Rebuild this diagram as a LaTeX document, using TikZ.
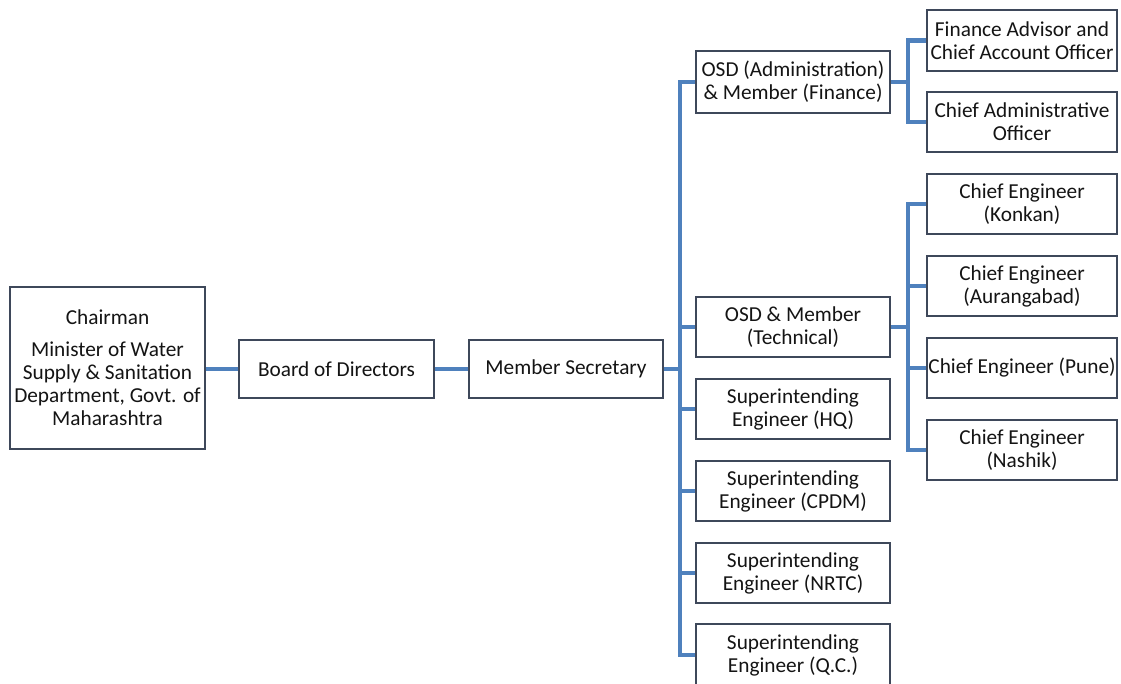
\documentclass[tikz,border=0pt]{standalone}
\usepackage{fontspec}
\setmainfont{Carlito}
\begin{document}
\begin{tikzpicture}[x=1pt,y=-1pt,
  box/.style={draw={rgb,255:red,62;green,72;blue,90}, line width=1.6pt, fill=white,
    inner sep=0pt, align=center, minimum height=60pt,
    font=\fontsize{21.3}{23}\selectfont, text={rgb,255:red,20;green,20;blue,20}},
  midbox/.style={box, minimum width=194pt},
  rightbox/.style={box, minimum width=190pt},
  link/.style={draw={rgb,255:red,79;green,129;blue,189}, line width=4.2pt, line join=miter}]
\useasboundingbox (0,0) rectangle (1121,684);

% main chain
\node[box, minimum width=195pt, minimum height=162pt] (chair) at (107.5,368)
  {Chairman\\[9pt]Minister of Water\\Supply \& Sanitation\\Department, Govt. of\\Maharashtra};
\node[box, minimum width=195pt, minimum height=58pt] (bod) at (336.5,369) {Board of Directors};
\node[box, minimum width=194pt, minimum height=58pt] (ms) at (566,369) {Member Secretary};

% second level
\node[midbox, minimum height=62pt] (admin) at (793,82) {OSD (Administration)\\\& Member (Finance)};
\node[midbox] (tech) at (793,327) {OSD \& Member\\(Technical)};
\node[midbox] (hq) at (793,409) {Superintending\\Engineer (HQ)};
\node[midbox] (cpdm) at (793,491) {Superintending\\Engineer (CPDM)};
\node[midbox] (nrtc) at (793,573) {Superintending\\Engineer (NRTC)};
\node[midbox, minimum height=62pt] (qc) at (793,655) {Superintending\\Engineer (Q.C.)};

% third level
\node[rightbox, minimum height=61pt] (fa) at (1022,40.5) {Finance Advisor and\\Chief Account Officer};
\node[rightbox] (cao) at (1022,122) {Chief Administrative\\Officer};
\node[rightbox] (konkan) at (1022,204) {Chief Engineer\\(Konkan)};
\node[rightbox] (aur) at (1022,286) {Chief Engineer\\(Aurangabad)};
\node[rightbox] (pune) at (1022,368) {Chief Engineer (Pune)};
\node[rightbox] (nashik) at (1022,450) {Chief Engineer\\(Nashik)};

% connectors
\coordinate (tk) at (680,369);
\coordinate (ba) at (908,82);
\coordinate (bt) at (908,327);
\draw[link] (chair.east |- bod.west) -- (bod.west);
\draw[link] (bod.east) -- (ms.west);
\draw[link] (ms.east) -- (tk);
\draw[link] (admin.west) -- (tk |- admin.west) -- (tk |- qc.west) -- (qc.west);
\foreach \n in {tech,hq,cpdm,nrtc} \draw[link] (tk |- \n.west) -- (\n.west);
\draw[link] (admin.east) -- (ba);
\draw[link] (fa.west) -- (ba |- fa.west) -- (ba |- cao.west) -- (cao.west);
\draw[link] (tech.east) -- (bt);
\draw[link] (konkan.west) -- (bt |- konkan.west) -- (bt |- nashik.west) -- (nashik.west);
\foreach \n in {aur,pune} \draw[link] (bt |- \n.west) -- (\n.west);
\end{tikzpicture}
\end{document}
